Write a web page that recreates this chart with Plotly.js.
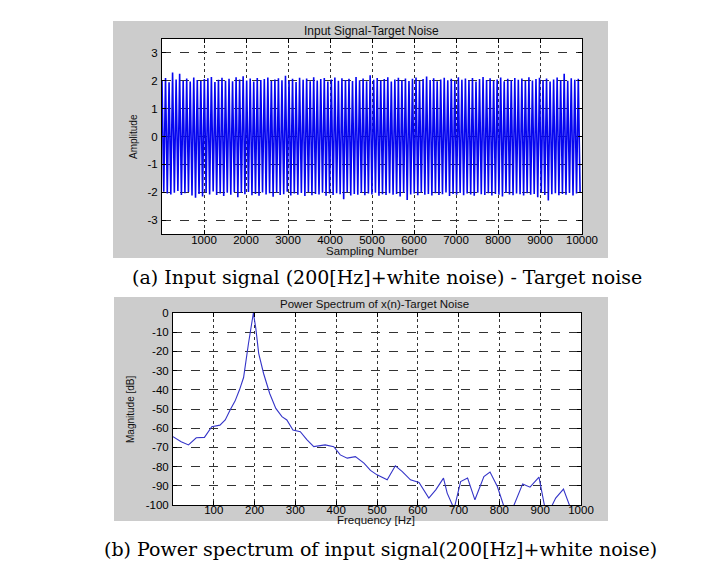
<!DOCTYPE html>
<html>
<head>
<meta charset="utf-8">
<script src="https://cdn.plot.ly/plotly-3.0.1.min.js"></script>
<style>html,body{margin:0;padding:0;background:#fff;}#chart{width:704px;height:574px;}</style>
</head>
<body>
<div id="chart"></div>
<script>
// ---- Data ----
// Top: successive peak / trough values of the input signal (one every ~42 samples)
const signalExtremes = [
 2.02,-1.98, 2.10,-2.05, 1.95,-2.08, 2.30,-2.02, 2.05,-1.96, 2.25,-2.10, 2.00,-2.04, 2.08,-1.99,
 1.97,-2.12, 2.12,-2.20, 2.03,-2.06, 1.99,-2.15, 2.06,-2.01, 2.09,-2.08, 2.14,-1.97, 1.96,-2.10,
 2.04,-2.05, 2.11,-2.14, 2.00,-2.02, 2.07,-2.09, 1.98,-2.00, 2.13,-2.18, 2.05,-2.03, 2.16,-2.07,
 2.01,-1.99, 2.08,-2.11, 1.97,-2.06, 2.10,-2.13, 2.03,-2.01, 2.06,-2.08, 2.12,-2.04, 1.99,-2.16,
 2.05,-2.02, 2.09,-2.10, 2.02,-2.07, 2.18,-1.98, 2.00,-2.12, 2.07,-2.05, 1.96,-2.09, 2.11,-2.03,
 2.04,-2.14, 2.08,-2.00, 1.98,-2.11, 2.13,-2.06, 2.01,-2.08, 2.06,-2.02, 2.10,-2.13, 1.97,-2.05,
 2.05,-2.10, 2.12,-2.04, 2.00,-2.07, 2.09,-2.25, 2.03,-2.01, 2.07,-2.12, 1.99,-2.06, 2.14,-2.09,
 2.02,-2.03, 2.08,-2.11, 1.98,-2.05, 2.20,-2.08, 2.04,-2.02, 2.10,-2.13, 2.01,-2.07, 2.06,-2.10,
 2.13,-2.04, 1.97,-2.09, 2.05,-2.06, 2.11,-2.15, 2.02,-2.03, 2.08,-2.28, 1.99,-2.08, 2.07,-2.05,
 2.12,-2.11, 2.00,-2.02, 2.06,-2.09, 2.15,-2.06, 2.03,-2.12, 2.09,-2.04, 1.98,-2.10, 2.05,-2.07,
 2.11,-2.01, 2.02,-2.14, 2.07,-2.06, 1.99,-2.09, 2.13,-2.03, 2.04,-2.11, 2.08,-2.05, 2.01,-2.08,
 2.10,-2.13, 1.97,-2.02, 2.06,-2.07, 2.14,-2.10, 2.03,-2.04, 2.09,-2.12, 2.00,-2.06, 2.05,-2.09,
 2.12,-2.15, 1.98,-2.03, 2.07,-2.08, 2.02,-2.11, 2.10,-2.05, 2.04,-2.07, 2.08,-2.12, 1.99,-2.04,
 2.13,-2.09, 2.01,-2.06, 2.06,-2.18, 2.11,-2.02, 2.03,-2.10, 2.08,-2.30, 1.97,-2.07, 2.05,-2.04,
 2.12,-2.11, 2.02,-2.06, 2.25,-2.09, 2.00,-2.03, 2.09,-2.12, 2.04,-2.05, 2.07,-2.01
];
const topYTicks = [-3, -2, -1, 0, 1, 2, 3];
const topXTicks = [1000, 2000, 3000, 4000, 5000, 6000, 7000, 8000, 9000, 10000];

// Bottom: power spectrum
const freqHz = [0, 20, 38, 57, 77, 95, 115, 128, 140, 152, 163, 173, 185, 197, 203, 210, 222, 237, 252, 267,
 279, 294, 312, 328, 345, 361, 373, 394, 410, 427, 447, 468, 484, 500, 525, 545, 562, 582, 603, 627,
 644, 663, 672, 689, 705, 722, 740, 762, 777, 795, 813, 832, 857, 875, 897, 912, 925, 938, 957, 975, 1000];
const magDb = [-64.4, -67, -68.7, -65, -64.8, -59.2, -58.4, -55.7, -50.5, -45.9, -40, -33.6, -15.9, 0, -8, -21, -31.5, -41.9, -49.7, -54,
 -55.7, -61, -61.8, -66, -69.6, -69.3, -68.7, -69.6, -73.9, -75.6, -74.8, -78.2, -82, -84.3, -86.9, -79.6, -82.6, -86.9, -88.3, -96.4,
 -92.1, -86, -93.8, -102, -87.8, -86, -97.3, -85.2, -82.8, -90.4, -102, -102, -89, -90.7, -85.5, -102, -102, -96.4, -91.7, -102, -102];
const botYTicks = [-100, -90, -80, -70, -60, -50, -40, -30, -20, -10, 0];
const botXTicks = [100, 200, 300, 400, 500, 600, 700, 800, 900, 1000];

// ---- Layout helpers ----
const W = 704, H = 574;
const px = v => v / W;
const py = v => 1 - v / H;

const tickFont = {family: 'Liberation Sans, Arial, sans-serif', size: 11.5, color: '#000'};
function axisBase(extra) {
  return Object.assign({
    showline: true, linecolor: '#000', linewidth: 1, mirror: 'ticks',
    ticks: 'inside', ticklen: 4, tickcolor: '#000', tickwidth: 1,
    showgrid: true, gridcolor: '#333', gridwidth: 1,
    zeroline: false, tickfont: tickFont, tickmode: 'array', fixedrange: true
  }, extra);
}
// label-only overlay axis (carries the x tick labels a few px closer to the axis)
function labelAxis(extra) {
  return Object.assign({
    showline: false, showgrid: false, zeroline: false, ticks: '', tickfont: tickFont,
    tickmode: 'array', anchor: 'free', fixedrange: true
  }, extra);
}

const traces = [
  {x0: 0, dx: 42, y: signalExtremes, type: 'scatter', mode: 'lines', xaxis: 'x', yaxis: 'y',
   line: {color: '#0606f0', width: 1.6}, hoverinfo: 'skip'},
  {x: freqHz, y: magDb, type: 'scatter', mode: 'lines', xaxis: 'x2', yaxis: 'y2',
   line: {color: '#3434c8', width: 1.1}, hoverinfo: 'skip'},
  {x: [], y: [], type: 'scatter', mode: 'lines', xaxis: 'x3', yaxis: 'y', hoverinfo: 'skip'},
  {x: [], y: [], type: 'scatter', mode: 'lines', xaxis: 'x4', yaxis: 'y2', hoverinfo: 'skip'}
];

const layout = {
  width: W, height: H, margin: {l: 0, r: 0, t: 0, b: 0},
  paper_bgcolor: '#ffffff', plot_bgcolor: '#ffffff', showlegend: false,
  xaxis: axisBase({domain: [px(162), px(582)], range: [0, 10000], tickvals: topXTicks,
    showticklabels: false, griddash: 'dot', anchor: 'y'}),
  yaxis: axisBase({domain: [py(234), py(39)], range: [-3.5, 3.5], tickvals: topYTicks,
    ticktext: topYTicks.map(String), griddash: 'dash', anchor: 'x', ticklabelstandoff: 1}),
  xaxis2: axisBase({domain: [px(173), px(581)], range: [0, 1000], tickvals: botXTicks,
    showticklabels: false, griddash: 'dot', anchor: 'y2'}),
  yaxis2: axisBase({domain: [py(505), py(313)], range: [-100, 0], tickvals: botYTicks,
    ticktext: botYTicks.map(String), griddash: 'dash', anchor: 'x2', ticklabelstandoff: 1}),
  xaxis3: labelAxis({overlaying: 'x', domain: [px(162), px(582)], range: [0, 10000],
    tickvals: topXTicks, ticktext: topXTicks.map(String), position: py(231)}),
  xaxis4: labelAxis({overlaying: 'x2', domain: [px(173), px(581)], range: [0, 1000],
    tickvals: botXTicks, ticktext: botXTicks.map(String), position: py(501)}),
  shapes: [
    {type: 'rect', xref: 'paper', yref: 'paper', x0: px(113), x1: px(608), y0: py(258), y1: py(21),
     fillcolor: '#cccccc', line: {width: 0}, layer: 'below'},
    {type: 'rect', xref: 'paper', yref: 'paper', x0: px(114), x1: px(608), y0: py(521), y1: py(297),
     fillcolor: '#cccccc', line: {width: 0}, layer: 'below'},
    {type: 'rect', xref: 'paper', yref: 'paper', x0: px(162), x1: px(582), y0: py(234), y1: py(39),
     fillcolor: '#ffffff', line: {width: 0}, layer: 'below'},
    {type: 'rect', xref: 'paper', yref: 'paper', x0: px(173), x1: px(581), y0: py(505), y1: py(313),
     fillcolor: '#ffffff', line: {width: 0}, layer: 'below'}
  ],
  annotations: [
    {text: 'Input Signal-Target Noise', xref: 'paper', yref: 'paper', x: px(371), y: py(31),
     showarrow: false, xanchor: 'center', yanchor: 'middle', font: {family: 'Liberation Sans, Arial', size: 12, color: '#111'}},
    {text: 'Sampling Number', xref: 'paper', yref: 'paper', x: px(372), y: py(251),
     showarrow: false, xanchor: 'center', yanchor: 'middle', font: {family: 'Liberation Sans, Arial', size: 11.5, color: '#111'}},
    {text: 'Amplitude', xref: 'paper', yref: 'paper', x: px(133), y: py(137), textangle: -90,
     showarrow: false, xanchor: 'center', yanchor: 'middle', font: {family: 'Liberation Sans, Arial', size: 10, color: '#111'}},
    {text: 'Power Spectrum of x(n)-Target Noise', xref: 'paper', yref: 'paper', x: px(374), y: py(304),
     showarrow: false, xanchor: 'center', yanchor: 'middle', font: {family: 'Liberation Sans, Arial', size: 11.5, color: '#111'}},
    {text: 'Frequency [Hz]', xref: 'paper', yref: 'paper', x: px(376), y: py(520),
     showarrow: false, xanchor: 'center', yanchor: 'middle', font: {family: 'Liberation Sans, Arial', size: 11.5, color: '#111'}},
    {text: 'Magnitude [dB]', xref: 'paper', yref: 'paper', x: px(130), y: py(410), textangle: -90,
     showarrow: false, xanchor: 'center', yanchor: 'middle', font: {family: 'Liberation Sans, Arial', size: 10, color: '#111'}},
    {text: '(a) Input signal (200[Hz]+white noise) - Target noise', xref: 'paper', yref: 'paper', x: px(387), y: py(277),
     showarrow: false, xanchor: 'center', yanchor: 'middle', font: {family: 'DejaVu Serif, serif', size: 19, color: '#000'}},
    {text: '(b) Power spectrum of input signal(200[Hz]+white noise)', xref: 'paper', yref: 'paper', x: px(380), y: py(549),
     showarrow: false, xanchor: 'center', yanchor: 'middle', font: {family: 'DejaVu Serif, serif', size: 19, color: '#000'}}
  ]
};

Plotly.newPlot('chart', traces, layout, {staticPlot: true, displayModeBar: false});
</script>
</body>
</html>
